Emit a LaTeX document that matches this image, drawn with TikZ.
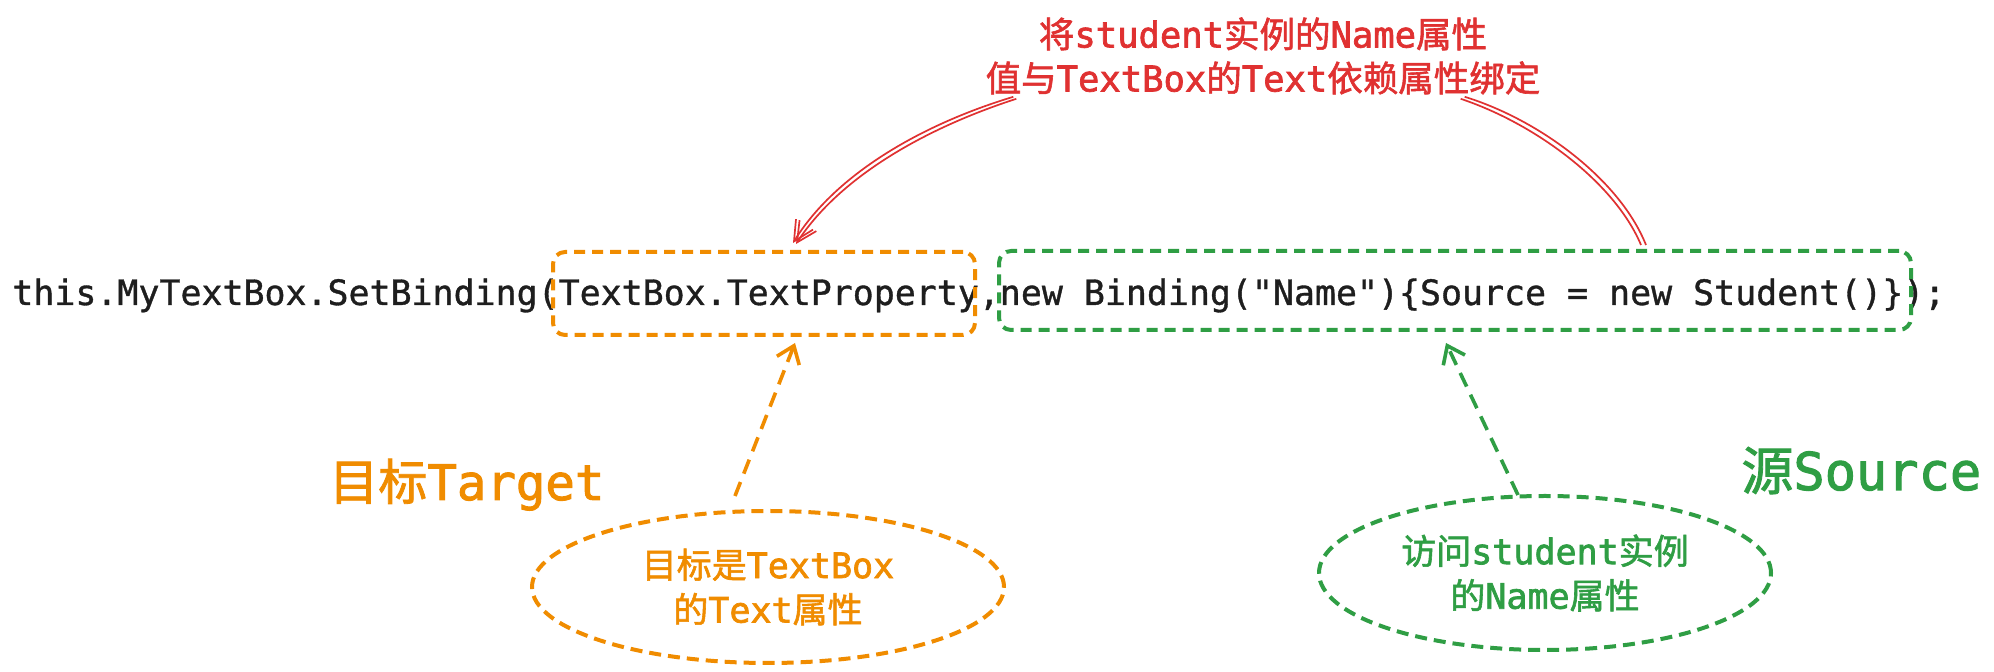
\documentclass[tikz,border=0pt]{standalone}
\usepackage{fontspec}
\setmainfont{DejaVu Sans}
\newfontfamily\mono[FakeBold=1]{DejaVu Sans Mono}
\newfontfamily\monom[FakeBold=2]{DejaVu Sans Mono}
\newfontfamily\cjkm[FakeBold=1.6]{Noto Sans CJK SC}
\usetikzlibrary{arrows.meta,shapes.geometric,calc}
\definecolor{ored}{HTML}{E03131}
\definecolor{oorange}{HTML}{F08C00}
\definecolor{ogreen}{HTML}{2F9E44}
\definecolor{oink}{HTML}{1E1E1E}
\newcommand\zh[1]{{\cjkm #1}}
\begin{document}
\begin{tikzpicture}[x=0.5pt,y=-0.5pt,
  codetext/.style={anchor=base west, inner sep=0pt, text=oink, font=\mono\fontsize{17.45}{21}\selectfont},
  dashbox/.style={draw, rounded corners=6pt, line width=2pt, dash pattern=on 5.5pt off 3.5pt, inner sep=0pt},
  dashell/.style={ellipse, draw, line width=2pt, dash pattern=on 6pt off 3.5pt, inner sep=0pt, align=center, font=\monom\fontsize{17.5}{22.25}\selectfont},
  dasharrow/.style={line width=1.8pt, dash pattern=on 7.5pt off 4.5pt, -{Straight Barb[length=8pt,width=12pt,line width=1.8pt]}},
  redline/.style={draw=ored, line width=0.85pt},
  redarrow/.style={redline, -{Straight Barb[length=10pt,width=10pt,line width=0.85pt]}},
  bigtext/.style={anchor=base west, inner sep=0pt},
  titletext/.style={anchor=north, inner sep=0pt, align=center, text=ored, font=\monom\fontsize{17.75}{22}\selectfont}
]
\fill[white] (0,0) rectangle (1994,672);
\useasboundingbox (0,0) rectangle (1994,672);

% code line
\node[codetext] (code) at (12,305) {this.MyTextBox.SetBinding(TextBox.TextProperty,new Binding("Name")\{Source = new Student()\});};

% dashed boxes
\node[dashbox, draw=oorange, minimum width=211pt, minimum height=41.5pt] (obox) at (764,293.5) {};
\node[dashbox, draw=ogreen, minimum width=456pt, minimum height=39.5pt] (gbox) at (1455,290.5) {};

% title
\node[titletext] (title) at (1263,17) {\zh{将}student\zh{实例的}Name\zh{属性}\\\zh{值与}TextBox\zh{的}Text\zh{依赖属性绑定}};

% labels
\node[bigtext, text=oorange, font=\monom\fontsize{24.5}{28}\selectfont] (tgt) at (329,500) {\zh{目标}Target};
\node[bigtext, text=ogreen, font=\monom\fontsize{26}{30}\selectfont] (src) at (1741,490) {\zh{源}Source};

% ellipses
\node[dashell, draw=oorange, text=oorange, minimum width=236pt, minimum height=76pt] (oell) at (768,587) {\zh{目标是}TextBox\\\zh{的}Text\zh{属性}};
\node[dashell, draw=ogreen, text=ogreen, minimum width=226pt, minimum height=77pt] (gell) at (1545,573) {\zh{访问}student\zh{实例}\\\zh{的}Name\zh{属性}};

% dashed arrows
\draw[dasharrow, oorange] ($(oell.north)+(-33,-13)$) -- ($(obox.south)+(31,6)$);
\draw[dasharrow, ogreen] ($(gell.north)+(-27,1)$) -- ($(gbox.south)+(-9,11)$);

% red curves
\draw[redarrow] ($(title.south west)+(28,2)$) .. controls (920,125) and (835,175) .. ($(obox.north)+(29,-7)$);
\draw[redarrow] ($(title.south west)+(31,4)$) .. controls (923,129) and (839,178) .. ($(obox.north)+(32,-6)$);
\draw[redline] ($(title.south east)+(-76,2)$) .. controls (1540,120) and (1620,180) .. ($(gbox.north)+(191,-4)$);
\draw[redline] ($(title.south east)+(-80,4)$) .. controls (1536,124) and (1615,183) .. ($(gbox.north)+(186,-4)$);
\end{tikzpicture}
\end{document}
